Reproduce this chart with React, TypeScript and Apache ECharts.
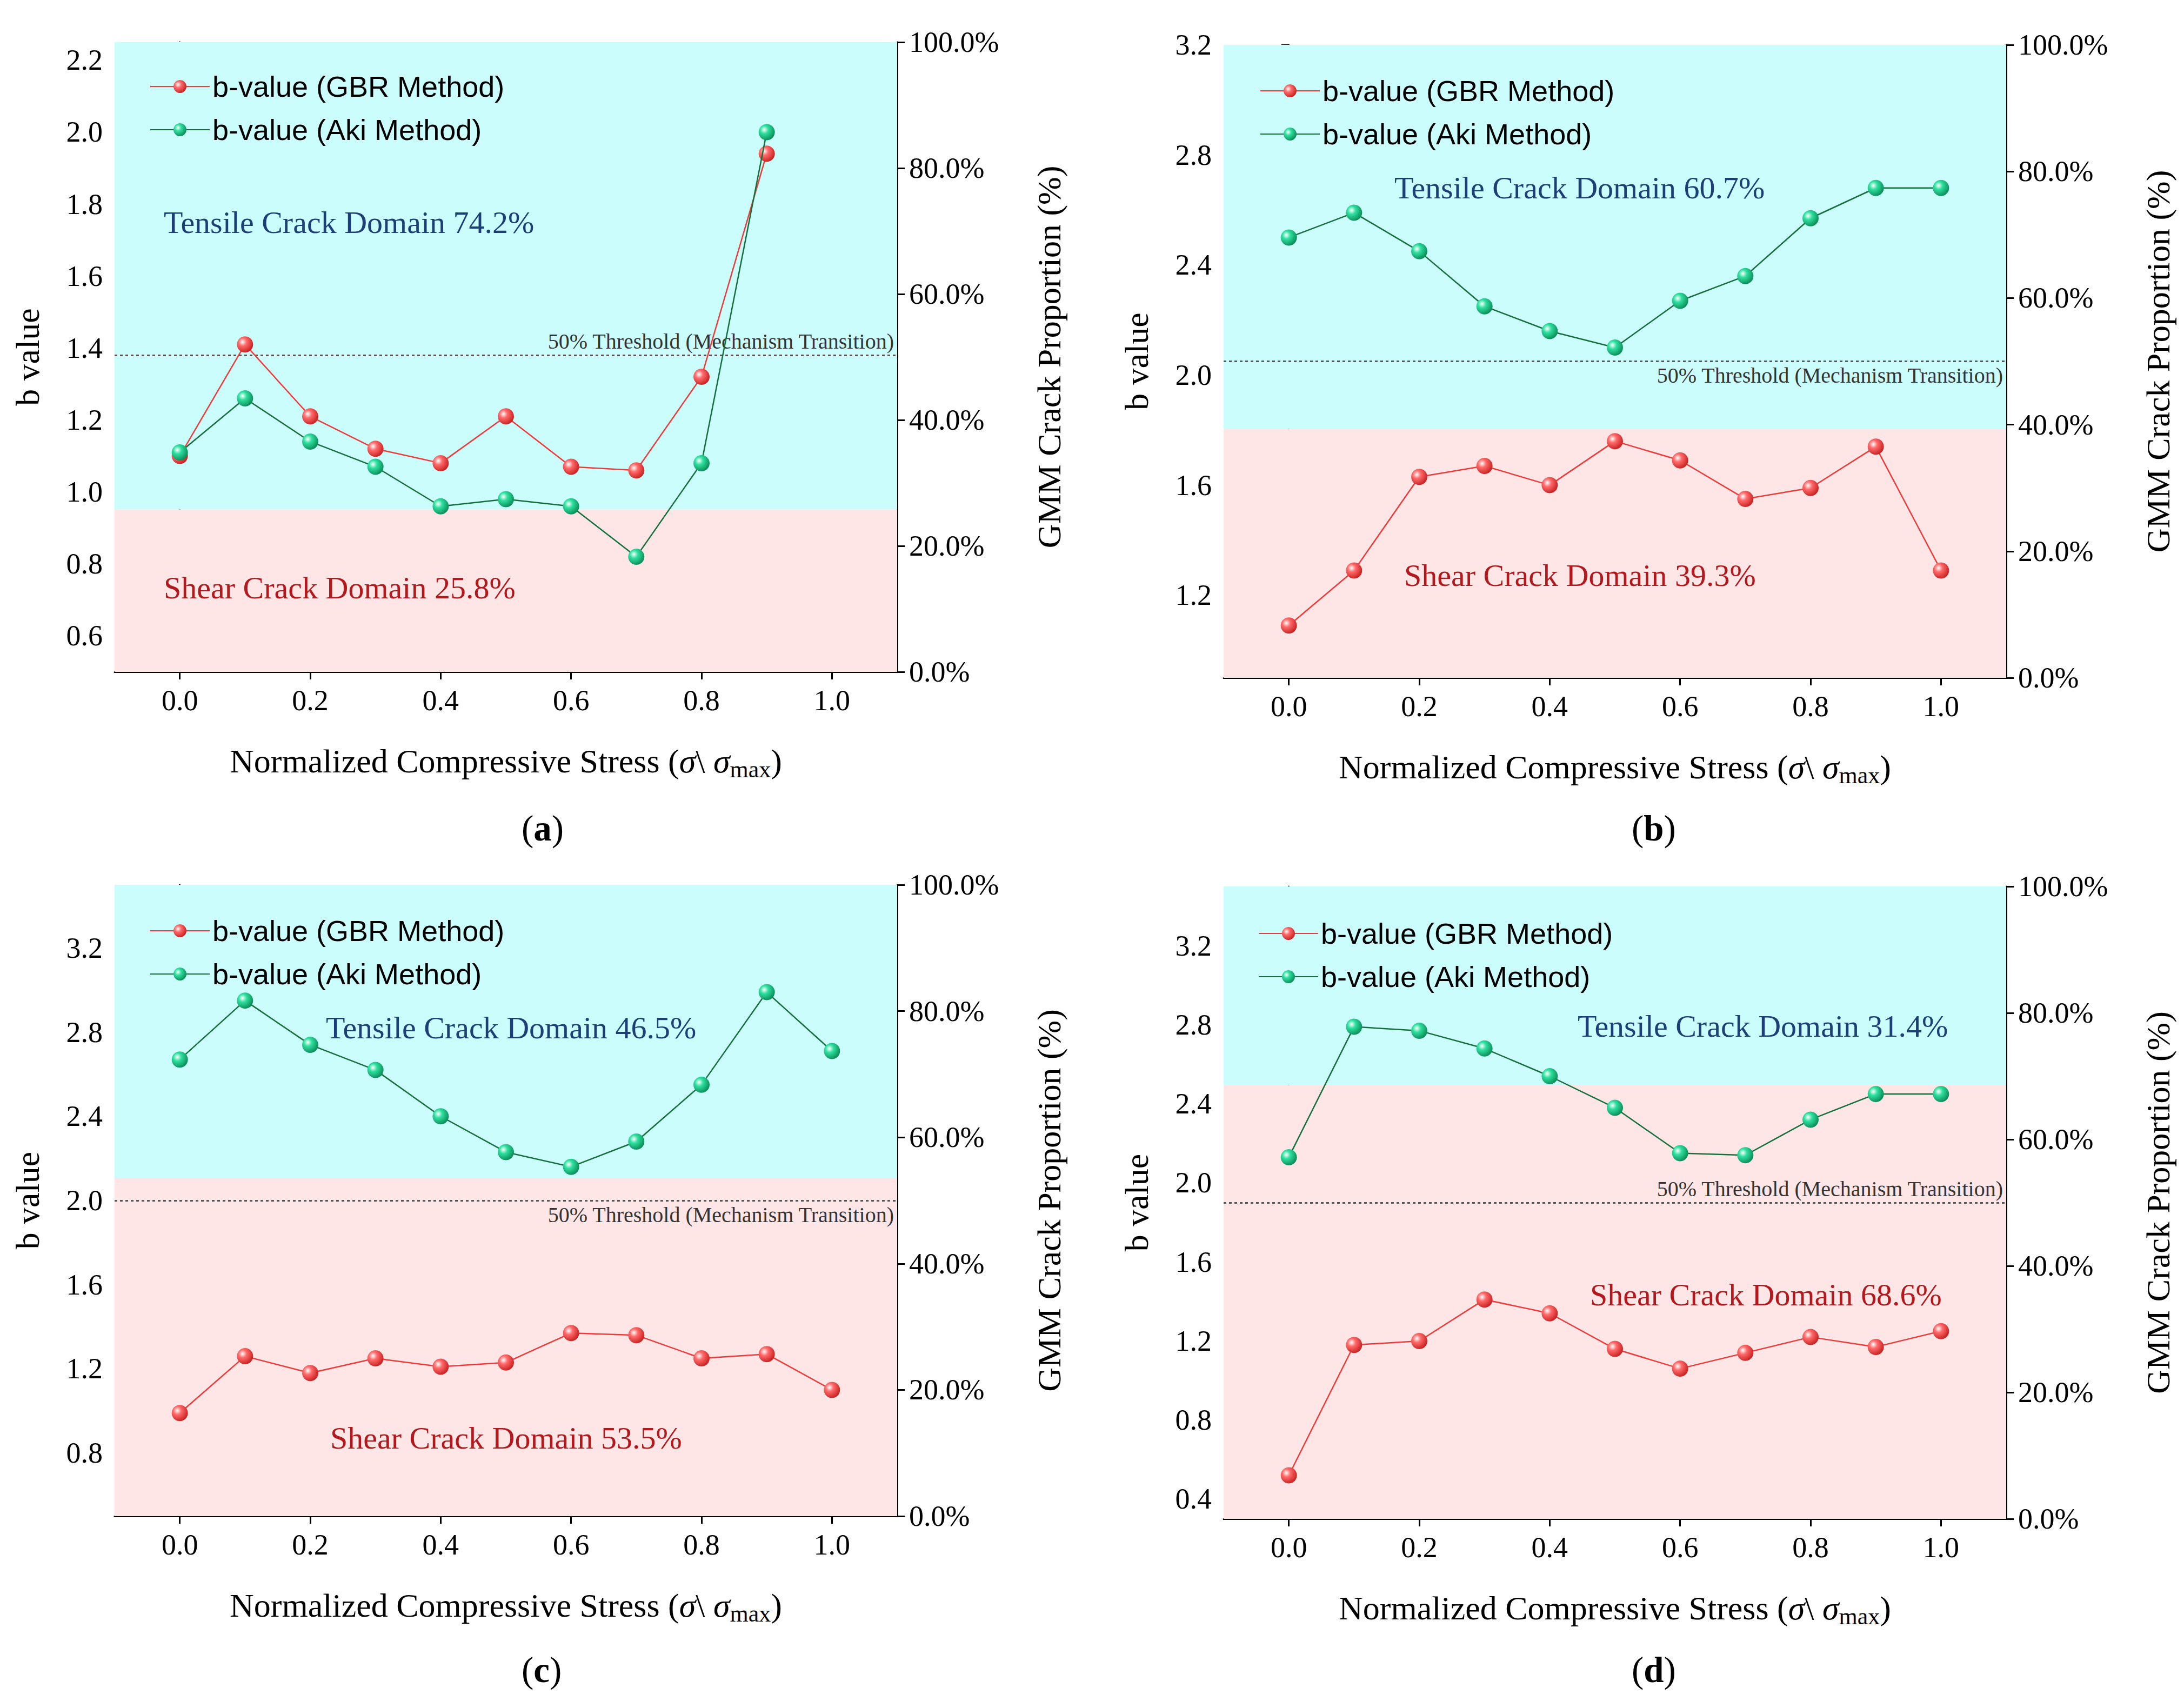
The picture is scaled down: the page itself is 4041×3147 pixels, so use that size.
import { useEffect, useRef } from "react";
import * as echarts from "echarts";

const stressA = [0, 0.1, 0.2, 0.3, 0.4, 0.5, 0.6, 0.7, 0.8, 0.9];
const stress = [0, 0.1, 0.2, 0.3, 0.4, 0.5, 0.6, 0.7, 0.8, 0.9, 1.0];

const gbrA = [1.1, 1.41, 1.21, 1.12, 1.08, 1.21, 1.07, 1.06, 1.32, 1.94];
const akiA = [1.11, 1.26, 1.14, 1.07, 0.96, 0.98, 0.96, 0.82, 1.08, 2.0];
const gbrB = [1.09, 1.29, 1.63, 1.67, 1.6, 1.76, 1.69, 1.55, 1.59, 1.74, 1.29];
const akiB = [2.5, 2.59, 2.45, 2.25, 2.16, 2.1, 2.27, 2.36, 2.57, 2.68, 2.68];
const gbrC = [0.99, 1.26, 1.18, 1.25, 1.21, 1.23, 1.37, 1.36, 1.25, 1.27, 1.1];
const akiC = [2.67, 2.95, 2.74, 2.62, 2.4, 2.23, 2.16, 2.28, 2.55, 2.99, 2.71];
const gbrD = [0.52, 1.18, 1.2, 1.41, 1.34, 1.16, 1.06, 1.14, 1.22, 1.17, 1.25];
const akiD = [2.13, 2.79, 2.77, 2.68, 2.54, 2.38, 2.15, 2.14, 2.32, 2.45, 2.45];

const shearPct = [25.8, 39.3, 53.5, 68.6];
const tensilePct = [74.2, 60.7, 46.5, 31.4];

const bTicksA = [0.6, 0.8, 1.0, 1.2, 1.4, 1.6, 1.8, 2.0, 2.2];
const bTicksB = [1.2, 1.6, 2.0, 2.4, 2.8, 3.2];
const bTicksC = [0.8, 1.2, 1.6, 2.0, 2.4, 2.8, 3.2];
const bTicksD = [0.4, 0.8, 1.2, 1.6, 2.0, 2.4, 2.8, 3.2];
const xTicks = [0, 0.2, 0.4, 0.6, 0.8, 1.0];

const FONT = "Liberation Serif";

const panels = [
  { x: stressA, gbr: gbrA, aki: akiA, min: 0.5, max: 2.25, ticks: bTicksA,
    grid: { left: 212, right: 4041 - 1660, top: 78, height: 1243 - 78 },
    legend: [272, 128], tens: [303, 414], shear: [303, 1090], thrPos: "insideEndTop", tag: "a", tagPos: [1005, 1538] },
  { x: stress, gbr: gbrB, aki: akiB, min: 0.9, max: 3.2, ticks: bTicksB,
    grid: { left: 2264, right: 4041 - 3712, top: 83, height: 1254 - 83 },
    legend: [2326, 136], tens: [2580, 350], shear: [2598, 1067], thrPos: "insideEndBottom", tag: "b", tagPos: [3059, 1538] },
  { x: stress, gbr: gbrC, aki: akiC, min: 0.5, max: 3.5, ticks: bTicksC,
    grid: { left: 212, right: 4041 - 1660, top: 1637, height: 2805 - 1637 },
    legend: [272, 1690], tens: [603, 1904], shear: [611, 2663], thrPos: "insideEndBottom", tag: "c", tagPos: [1005, 3095] },
  { x: stress, gbr: gbrD, aki: akiD, min: 0.3, max: 3.5, ticks: bTicksD,
    grid: { left: 2264, right: 4041 - 3712, top: 1640, height: 2810 - 1640 },
    legend: [2323, 1695], tens: [2919, 1901], shear: [2942, 2398], thrPos: "insideEndTop", tag: "d", tagPos: [3059, 3095] },
];

const ball = (c0: string, c1: string) => ({
  type: "radial", x: 0.35, y: 0.35, r: 0.7,
  colorStops: [{ offset: 0, color: "#ffffff" }, { offset: 0.35, color: c0 }, { offset: 1, color: c1 }],
});

const axisLine = { show: true, lineStyle: { color: "#000", width: 3 } };
const axisTick = { show: true, inside: false, length: 14, lineStyle: { color: "#000", width: 3 } };

export default function App() {
  const ref = useRef<HTMLDivElement>(null);

  useEffect(() => {
    if (!ref.current) return;
    const chart = echarts.init(ref.current, undefined, { renderer: "svg" });

    const grid: any[] = [];
    const xAxis: any[] = [];
    const yAxis: any[] = [];
    const series: any[] = [];
    const legend: any[] = [];
    const graphic: any[] = [];

    panels.forEach((p, i) => {
      grid.push(p.grid);
      const toB = (pct: number) => p.min + (pct / 100) * (p.max - p.min);
      xAxis.push({
        type: "value", gridIndex: i, min: -0.1, max: 1.1,
        axisLine, axisTick: { ...axisTick, customValues: xTicks }, splitLine: { show: false },
        axisLabel: { customValues: xTicks, formatter: (v: number) => v.toFixed(1), fontFamily: FONT, fontSize: 54, color: "#000", margin: 26 },
        name: "Normalized Compressive Stress ({s|σ}\\ {s|σ}{sub|max})", nameLocation: "middle", nameGap: 128,
        nameTextStyle: {
          fontFamily: FONT, fontSize: 62, color: "#000",
          rich: {
            s: { fontFamily: FONT, fontSize: 62, fontStyle: "italic", color: "#000" },
            sub: { fontFamily: FONT, fontSize: 44, color: "#000", verticalAlign: "bottom", padding: [30, 0, 0, 0] },
          },
        },
      });
      yAxis.push({
        type: "value", gridIndex: i, min: p.min, max: p.max, position: "left",
        axisLine, axisTick: { ...axisTick, customValues: p.ticks }, splitLine: { show: false },
        axisLabel: { customValues: p.ticks, formatter: (v: number) => v.toFixed(1), fontFamily: FONT, fontSize: 54, color: "#000", margin: 22 },
        name: "b value", nameLocation: "middle", nameGap: 130,
        nameTextStyle: { fontFamily: FONT, fontSize: 62, color: "#000" },
      });
      yAxis.push({
        type: "value", gridIndex: i, min: 0, max: 100, interval: 20, position: "right",
        axisLine, axisTick, splitLine: { show: false },
        axisLabel: { formatter: (v: number) => v.toFixed(1) + "%", fontFamily: FONT, fontSize: 54, color: "#000", margin: 22 },
        name: "GMM Crack Proportion (%)", nameLocation: "middle", nameGap: 250, nameRotate: 90,
        nameTextStyle: { fontFamily: FONT, fontSize: 62, color: "#000" },
      });
      const yl = i * 2;
      series.push({
        name: "b-value (GBR Method)", type: "line", xAxisIndex: i, yAxisIndex: yl,
        data: p.x.map((x, k) => [x, p.gbr[k]]), z: 5,
        lineStyle: { color: "#f03a3a", width: 2.5 },
        symbol: "circle", symbolSize: 30,
        itemStyle: { color: ball("#ff6b6b", "#c81e1e"), borderWidth: 0 },
        markArea: {
          silent: true,
          data: [
            [{ yAxis: p.min, itemStyle: { color: "#ffe6e6" } }, { yAxis: toB(shearPct[i]) }],
            [{ yAxis: toB(shearPct[i]), itemStyle: { color: "#ccfdfd" } }, { yAxis: p.max }],
          ],
        },
        markLine: {
          silent: true, symbol: "none",
          lineStyle: { color: "#555", type: [5, 5], width: 3 },
          label: { position: p.thrPos, formatter: "50% Threshold (Mechanism Transition)", fontFamily: FONT, fontSize: 40, color: "#333", distance: 6 },
          data: [{ yAxis: toB(50) }],
        },
      });
      series.push({
        name: "b-value (Aki Method)", type: "line", xAxisIndex: i, yAxisIndex: yl,
        data: p.x.map((x, k) => [x, p.aki[k]]), z: 6,
        lineStyle: { color: "#13703a", width: 2.5 },
        symbol: "circle", symbolSize: 30,
        itemStyle: { color: ball("#2fe0a0", "#0a8a55"), borderWidth: 0 },
      });
      legend.push({
        left: p.legend[0], top: p.legend[1], orient: "vertical", itemGap: 26,
        itemWidth: 110, itemHeight: 30,
        data: ["b-value (GBR Method)", "b-value (Aki Method)"],
        textStyle: { fontFamily: "Liberation Sans", fontSize: 54, color: "#000" },
        selectedMode: false,
      });
      graphic.push({
        type: "text", left: p.tens[0], top: p.tens[1] - 32, z: 100,
        style: { text: `Tensile Crack Domain ${tensilePct[i]}%`, font: `58px "${FONT}"`, fill: "#1d3f78" },
      });
      graphic.push({
        type: "text", left: p.shear[0], top: p.shear[1] - 32, z: 100,
        style: { text: `Shear Crack Domain ${shearPct[i]}%`, font: `58px "${FONT}"`, fill: "#b3181c" },
      });
      graphic.push({
        type: "text", left: p.tagPos[0] - 40, top: p.tagPos[1] - 40, z: 100,
        style: {
          text: `(${"{b|" + p.tag + "}"})`, fontFamily: FONT, fontSize: 67, fill: "#000",
          rich: { b: { fontFamily: FONT, fontSize: 67, fontWeight: "bold", fill: "#000" } },
        },
      });
    });

    chart.setOption({
      animation: false,
      backgroundColor: "#fff",
      grid, xAxis, yAxis, series, legend, graphic,
    });
    return () => chart.dispose();
  }, []);

  return <div ref={ref} style={{ position: "absolute", left: 0, top: 0, width: 4041, height: 3147 }} />;
}
